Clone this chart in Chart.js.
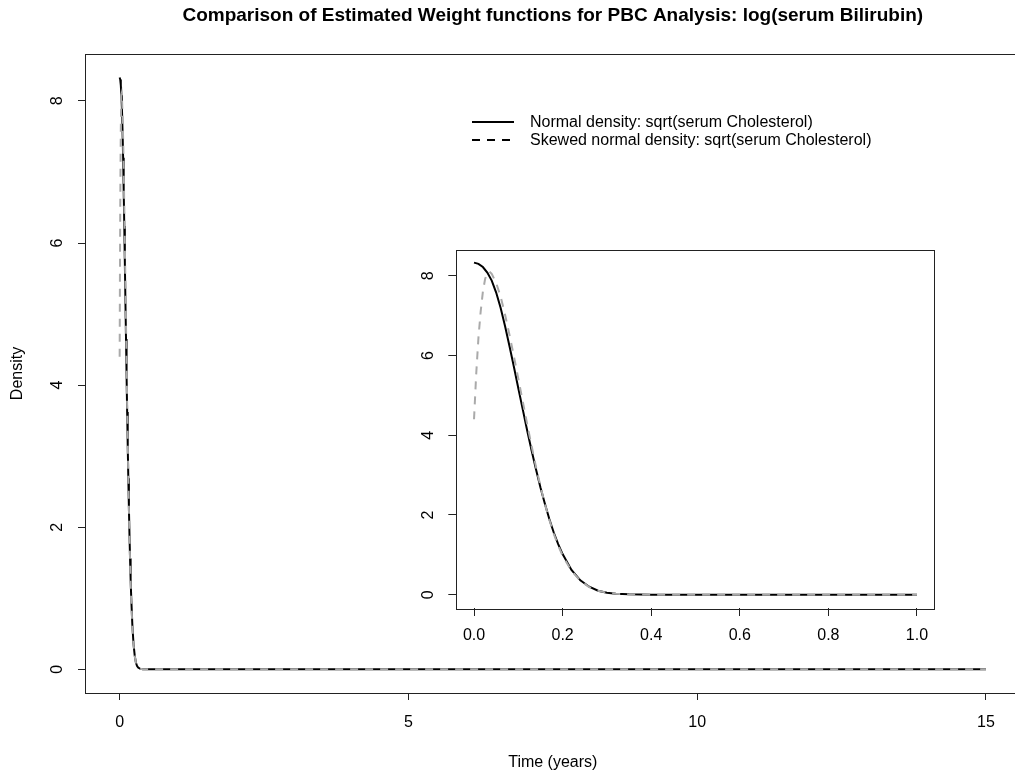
<!DOCTYPE html>
<html>
<head>
<meta charset="utf-8">
<script src="https://cdn.jsdelivr.net/npm/chart.js@4.4.0/dist/chart.umd.min.js"></script>
<style>
  html, body { margin: 0; padding: 0; background: #fff; overflow: hidden; }
  #wrap { position: relative; width: 1015px; height: 775px; overflow: hidden; }
  #main { position: absolute; left: 0; top: 0; }
  #inset { position: absolute; left: 400px; top: 240px; }
</style>
</head>
<body>
<div id="wrap">
  <canvas id="main" width="1030" height="775"></canvas>
  <canvas id="inset" width="560" height="420"></canvas>
</div>
<script>
const chartTitle = "Comparison of Estimated Weight functions for PBC Analysis: log(serum Bilirubin)"
const seriesLabels = ["Normal density: sqrt(serum Cholesterol)", "Skewed normal density: sqrt(serum Cholesterol)"]

// values (time in years, density)
const timeNormal = [0, 0.01, 0.02, 0.03, 0.04, 0.05, 0.06, 0.07, 0.08, 0.09, 0.10, 0.11, 0.12, 0.13, 0.14, 0.15, 0.16, 0.17, 0.18, 0.19, 0.20, 0.22, 0.24, 0.26, 0.28, 0.30, 0.32, 0.35, 0.40, 0.5, 0.6, 0.7, 0.8, 0.9, 1.0]
const densityNormal = [8.33, 8.30, 8.22, 8.08, 7.88, 7.58, 7.20, 6.74, 6.24, 5.72, 5.18, 4.65, 4.12, 3.62, 3.14, 2.69, 2.28, 1.90, 1.56, 1.27, 1.02, 0.62, 0.36, 0.20, 0.10, 0.05, 0.025, 0.01, 0.002, 0, 0, 0, 0, 0, 0]

const timeSkewed = [0, 0.005, 0.01, 0.015, 0.02, 0.025, 0.03, 0.035, 0.04, 0.05, 0.06, 0.07, 0.08, 0.09, 0.10, 0.11, 0.12, 0.13, 0.14, 0.15, 0.16, 0.17, 0.18, 0.19, 0.20, 0.22, 0.24, 0.26, 0.28, 0.30, 0.32, 0.35, 0.40, 0.5, 0.6, 0.7, 0.8, 0.9, 1.0]
const densitySkewed = [4.40, 5.55, 6.45, 7.10, 7.60, 7.92, 8.08, 8.10, 8.05, 7.82, 7.48, 7.03, 6.52, 5.98, 5.42, 4.85, 4.28, 3.73, 3.20, 2.72, 2.28, 1.88, 1.53, 1.23, 0.98, 0.60, 0.35, 0.19, 0.10, 0.05, 0.024, 0.008, 0.001, 0, 0, 0, 0, 0, 0]

// rest of the follow-up on the main plot
const timeTail = [2, 5, 10, 15]
const densityTail = [0, 0, 0, 0]

const mainXTicks = [0, 5, 10, 15]
const mainYTicks = [0, 2, 4, 6, 8]
const insetXTicks = [0, 0.2, 0.4, 0.6, 0.8, 1.0]
const insetYTicks = [0, 2, 4, 6, 8]

const FONT = '"Liberation Sans", Arial, Helvetica, sans-serif'
const FS = 16
const GREY = "#aaaaaa"
const DASH = [8, 7]

const toPoints = (xs, ys) => xs.map((x, i) => ({x: x, y: ys[i]}))

// no extra room for edge labels, the plot box is placed by hand
const noPadding = s => {
  s.paddingTop = 0
  s.paddingBottom = 0
  s.paddingLeft = 0
  s.paddingRight = 0
}

const boxPlugin = {
  id: "rbox",
  beforeDatasetsDraw(chart) {
    const a = chart.chartArea
    const ctx = chart.ctx
    ctx.save()
    ctx.fillStyle = "#fff"
    ctx.fillRect(a.left, a.top, a.right - a.left, a.bottom - a.top)
    ctx.restore()
  },
  afterDraw(chart) {
    const a = chart.chartArea
    const ctx = chart.ctx
    ctx.save()
    ctx.strokeStyle = "#222"
    ctx.lineWidth = 1
    ctx.strokeRect(Math.round(a.left) + 0.5, Math.round(a.top) + 0.5, Math.round(a.right - a.left), Math.round(a.bottom - a.top))
    ctx.restore()
  }
}

const titleLegendPlugin = {
  id: "titleLegend",
  afterDraw(chart) {
    const ctx = chart.ctx
    const a = chart.chartArea
    ctx.save()
    ctx.fillStyle = "#000"
    ctx.font = "bold 19px " + FONT
    ctx.textAlign = "center"
    ctx.textBaseline = "alphabetic"
    ctx.fillText(chartTitle, (a.left + a.right) / 2, 21)

    ctx.font = FS + "px " + FONT
    ctx.textAlign = "left"
    ctx.textBaseline = "middle"
    const rows = [122, 140]
    chart.data.datasets.forEach((ds, i) => {
      ctx.beginPath()
      ctx.strokeStyle = "#000"
      ctx.lineWidth = 2
      ctx.setLineDash(i === 0 ? [] : DASH)
      ctx.moveTo(472, rows[i])
      ctx.lineTo(514, rows[i])
      ctx.stroke()
      ctx.setLineDash([])
      ctx.fillText(ds.label, 530, rows[i] + 1)
    })
    ctx.restore()
  }
}

const axisX = (min, max, ticks, height, tickLen, pad, fmt, title) => ({
  type: "linear",
  min: min,
  max: max,
  afterBuildTicks: s => { s.ticks = ticks.map(v => ({value: v})) },
  afterFit: s => { s.height = height; noPadding(s) },
  grid: {drawOnChartArea: false, drawTicks: true, tickLength: tickLen, color: "#222", lineWidth: 1},
  border: {display: false},
  ticks: {color: "#000", font: {family: FONT, size: FS}, padding: pad, maxRotation: 0, autoSkip: false, callback: fmt},
  title: title
})

const axisY = (min, max, ticks, width, tickLen, pad, title) => ({
  type: "linear",
  min: min,
  max: max,
  afterBuildTicks: s => { s.ticks = ticks.map(v => ({value: v})) },
  afterFit: s => { s.width = width; noPadding(s) },
  grid: {drawOnChartArea: false, drawTicks: true, tickLength: tickLen, color: "#222", lineWidth: 1},
  border: {display: false},
  ticks: {color: "#000", font: {family: FONT, size: FS}, padding: pad, minRotation: 90, maxRotation: 90, crossAlign: "center", autoSkip: false},
  title: title
})

const lineSet = (label, pts, color, dash, order) => ({
  label: label,
  data: pts,
  borderColor: color,
  borderWidth: 2,
  borderDash: dash,
  pointRadius: 0,
  tension: 0,
  fill: false,
  order: order
})

const mainChart = new Chart(document.getElementById("main"), {
  type: "line",
  data: {
    datasets: [
      lineSet(seriesLabels[0], toPoints(timeNormal.concat(timeTail), densityNormal.concat(densityTail)), "#000", [], 2),
      lineSet(seriesLabels[1], toPoints(timeSkewed.concat(timeTail), densitySkewed.concat(densityTail)), GREY, DASH, 1)
    ]
  },
  options: {
    responsive: false,
    animation: false,
    layout: {padding: {top: 54, right: 9.4, left: 0, bottom: 0}},
    plugins: {legend: {display: false}, tooltip: {enabled: false}, title: {display: false}},
    scales: {
      x: axisX(-0.6, 15.6, mainXTicks, 82, 7, 13, v => String(v),
        {display: true, text: "Time (years)", color: "#000", font: {family: FONT, size: FS}, padding: {top: 0, bottom: 3}}),
      y: axisY(-0.333, 8.66, mainYTicks, 85, 7, 16,
        {display: true, text: "Density", color: "#000", font: {family: FONT, size: FS}, padding: {top: 8, bottom: 0}})
    }
  },
  plugins: [boxPlugin, titleLegendPlugin]
})

const insetChart = new Chart(document.getElementById("inset"), {
  type: "line",
  data: {
    datasets: [
      lineSet(seriesLabels[0], toPoints(timeNormal, densityNormal), "#000", [], 2),
      lineSet(seriesLabels[1], toPoints(timeSkewed, densitySkewed), GREY, DASH, 1)
    ]
  },
  options: {
    responsive: false,
    animation: false,
    layout: {padding: {top: 9.5, right: 25.3, left: 0, bottom: 0}},
    plugins: {legend: {display: false}, tooltip: {enabled: false}, title: {display: false}},
    scales: {
      x: axisX(-0.04, 1.04, insetXTicks, 52, 8, 10, v => v.toFixed(1), {display: false}),
      y: axisY(-0.333, 8.66, insetYTicks, 56.3, 8, 15, {display: false})
    }
  },
  plugins: [boxPlugin]
})
</script>
</body>
</html>
